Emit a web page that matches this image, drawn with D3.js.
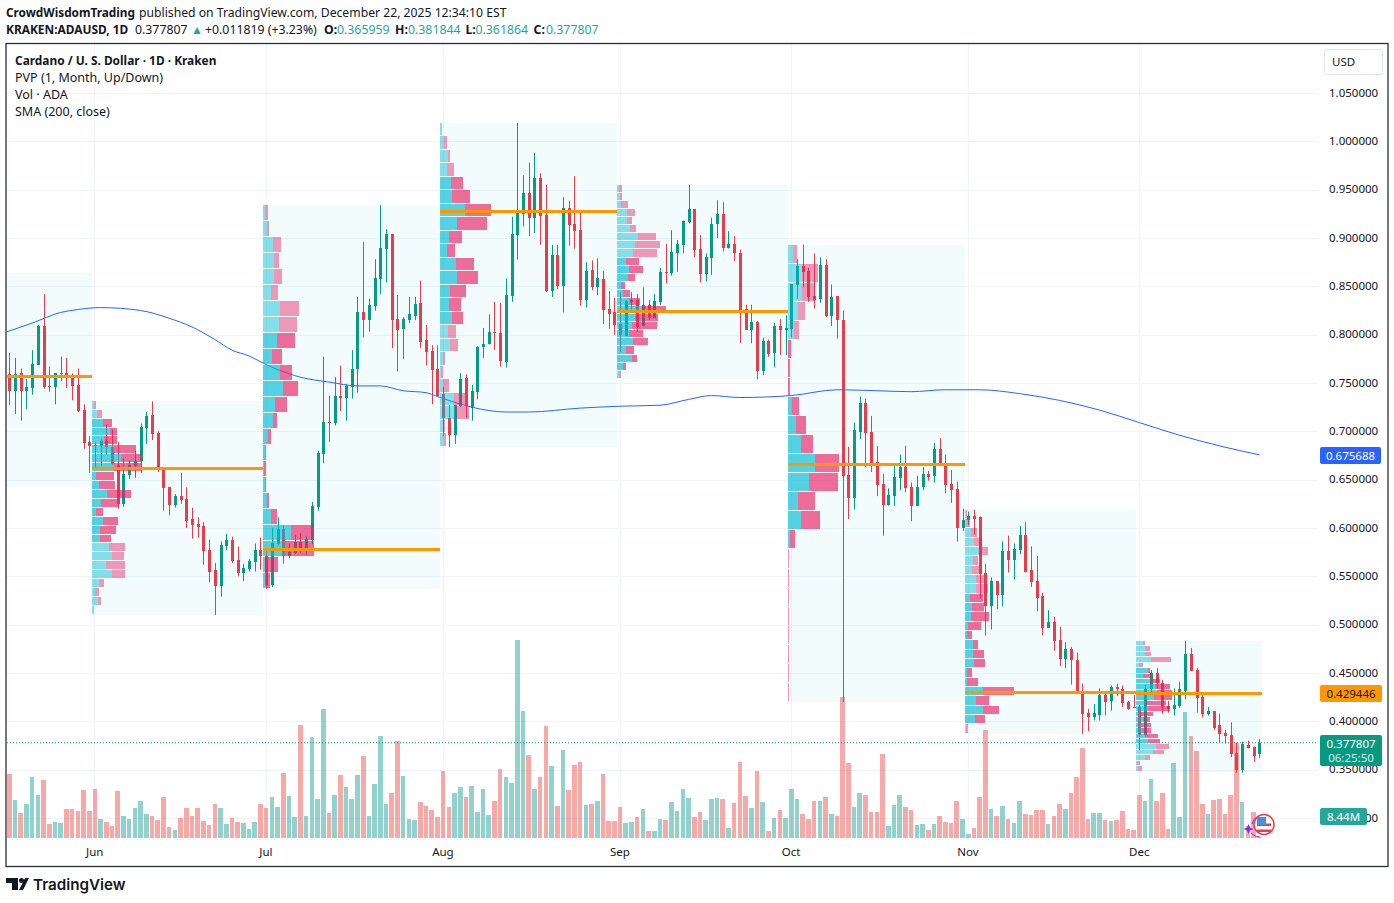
<!DOCTYPE html>
<html>
<head>
<meta charset="utf-8">
<title>KRAKEN:ADAUSD</title>
<script src="https://cdn.jsdelivr.net/npm/d3@7"></script>
<style>
  html, body { margin: 0; background: #fff; }
  svg { display: block; }
  text { font-family: "Noto Sans", sans-serif; fill: #131722; }
  .axis text { font-family: "Noto Sans", sans-serif; font-size: 11.5px; fill: #131722; }
  .axis path, .axis line { display: none; }
</style>
</head>
<body>
<svg id="chart" width="1394" height="903"></svg>
<script>
// Daily candles, 17 May to 22 Dec 2025
const opens = [
  .759,.742,.760,.742,.745,.769,.809,.747,.746,.759,
  .760,.757,.748,.722,.689,.686,.685,.690,.684,.665,
  .625,.655,.664,.669,.703,.717,.698,.660,.642,.624,
  .633,.630,.609,.604,.602,.577,.557,.540,.581,.588,
  .567,.553,.558,.565,.577,.571,.541,.583,.599,.571,
  .574,.586,.579,.588,.622,.677,.710,.709,.737,.735,
  .746,.764,.823,.815,.830,.858,.889,.904,.816,.806,
  .815,.819,.833,.794,.783,.764,.739,.714,.696,.726,
  .755,.724,.741,.787,.790,.803,.802,.772,.840,.903,
  .925,.947,.921,.962,.924,.845,.882,.850,.931,.915,
  .908,.836,.867,.849,.858,.827,.823,.811,.799,.834,
  .836,.809,.831,.817,.834,.865,.864,.885,.893,.917,
  .930,.889,.863,.879,.914,.925,.890,.894,.885,.827,
  .805,.813,.762,.793,.781,.809,.805,.806,.851,.871,
  .866,.840,.837,.872,.819,.840,.815,.655,.631,.699,
  .729,.699,.668,.646,.624,.633,.652,.663,.642,.623,
  .642,.656,.654,.682,.667,.646,.640,.600,.608,.612,
  .611,.553,.519,.545,.531,.576,.567,.577,.593,.557,
  .545,.530,.497,.503,.484,.465,.475,.463,.428,.409,
  .404,.407,.427,.421,.436,.433,.420,.415,.415,.386,
  .433,.450,.440,.416,.413,.416,.431,.470,.453,.425,
  .408,.411,.396,.388,.386,.367,.350,.376,.373,.365959
];
const highs = [
  .781,.776,.765,.754,.784,.810,.842,.767,.760,.777,
  .776,.760,.765,.728,.695,.689,.692,.707,.702,.689,
  .672,.670,.680,.708,.720,.731,.700,.660,.642,.635,
  .657,.642,.621,.611,.606,.588,.564,.586,.594,.591,
  .581,.563,.568,.584,.590,.577,.600,.611,.603,.584,
  .593,.595,.592,.627,.680,.777,.737,.756,.768,.749,
  .784,.839,.896,.837,.878,.934,.909,.904,.841,.818,
  .839,.839,.856,.810,.789,.789,.746,.727,.727,.760,
  .759,.748,.788,.807,.821,.834,.833,.858,.922,1.019,
  .965,.978,.988,.967,.955,.893,.893,.942,.938,.964,
  .926,.875,.877,.879,.866,.845,.838,.844,.836,.844,
  .842,.849,.836,.842,.869,.894,.908,.898,.918,.955,
  .930,.903,.884,.921,.939,.937,.907,.902,.888,.831,
  .831,.814,.797,.795,.812,.816,.820,.852,.878,.893,
  .869,.884,.880,.878,.852,.840,.825,.684,.709,.736,
  .734,.716,.685,.656,.641,.664,.676,.685,.647,.654,
  .663,.659,.688,.693,.676,.660,.648,.620,.617,.619,
  .612,.563,.549,.545,.586,.592,.584,.602,.606,.581,
  .571,.533,.515,.508,.498,.482,.477,.471,.439,.413,
  .418,.434,.429,.437,.439,.437,.421,.427,.417,.438,
  .453,.455,.443,.421,.434,.441,.483,.476,.455,.427,
  .415,.411,.408,.391,.399,.378,.379,.380,.374,.381844
];
const lows = [
  .727,.718,.711,.723,.738,.769,.744,.741,.728,.752,
  .745,.732,.720,.682,.657,.660,.664,.676,.665,.620,
  .622,.651,.652,.657,.687,.691,.658,.618,.613,.621,
  .625,.600,.589,.590,.562,.544,.510,.529,.577,.564,
  .550,.545,.555,.555,.557,.537,.539,.582,.563,.569,
  .573,.574,.572,.583,.618,.667,.689,.706,.721,.711,
  .734,.740,.797,.803,.825,.842,.854,.786,.762,.775,
  .812,.815,.786,.768,.728,.736,.695,.684,.687,.725,
  .714,.711,.733,.776,.790,.784,.767,.766,.834,.878,
  .912,.902,.905,.893,.844,.839,.847,.823,.892,.889,
  .830,.828,.846,.841,.811,.806,.800,.782,.799,.826,
  .803,.809,.815,.817,.831,.853,.861,.865,.884,.915,
  .880,.854,.855,.862,.900,.886,.889,.876,.791,.805,
  .791,.754,.758,.777,.766,.779,.779,.797,.837,.849,
  .834,.827,.833,.818,.809,.796,.420,.609,.619,.692,
  .663,.658,.633,.592,.623,.623,.639,.637,.607,.623,
  .639,.649,.647,.665,.636,.626,.586,.597,.603,.593,
  .527,.489,.495,.516,.519,.554,.547,.573,.554,.539,
  .514,.489,.497,.473,.457,.455,.438,.429,.387,.390,
  .401,.401,.406,.411,.426,.415,.412,.414,.370,.384,
  .429,.434,.408,.409,.406,.414,.423,.452,.409,.404,
  .406,.391,.378,.377,.363,.347,.347,.372,.358,.361864
];
const closes = [
  .742,.759,.742,.746,.770,.809,.746,.746,.760,.760,
  .757,.747,.721,.688,.685,.685,.690,.684,.666,.625,
  .656,.665,.669,.705,.716,.697,.660,.641,.624,.633,
  .629,.607,.603,.601,.576,.555,.540,.582,.588,.566,
  .553,.559,.566,.577,.571,.541,.584,.599,.571,.575,
  .586,.579,.589,.623,.678,.710,.709,.737,.735,.747,
  .765,.823,.815,.831,.859,.890,.904,.815,.805,.816,
  .821,.832,.792,.782,.763,.737,.714,.696,.727,.754,
  .726,.742,.787,.790,.803,.802,.773,.841,.904,.926,
  .947,.921,.962,.923,.845,.882,.850,.931,.913,.907,
  .836,.866,.849,.859,.826,.821,.810,.800,.835,.836,
  .808,.831,.817,.835,.865,.864,.886,.894,.918,.930,
  .888,.863,.880,.914,.925,.890,.894,.884,.826,.805,
  .813,.762,.793,.780,.809,.805,.807,.852,.871,.865,
  .839,.836,.872,.819,.839,.815,.654,.631,.701,.729,
  .698,.666,.645,.624,.634,.653,.663,.641,.623,.642,
  .656,.653,.682,.667,.645,.639,.600,.608,.612,.609,
  .552,.519,.545,.531,.576,.567,.578,.593,.555,.544,
  .528,.497,.503,.483,.465,.475,.463,.431,.408,.404,
  .409,.427,.420,.436,.433,.419,.413,.414,.386,.433,
  .450,.440,.415,.413,.417,.433,.470,.452,.424,.408,
  .411,.393,.387,.385,.366,.350,.377,.372,.364,.377807
];
const volumes = [
  64,38,25,34,61,43,58,14,16,15,
  29,29,27,48,27,49,19,16,12,47,
  22,19,30,37,24,22,18,41,11,8,
  20,30,22,30,17,13,34,30,14,20,
  16,15,9,16,34,30,41,31,65,42,
  21,113,22,101,39,129,25,43,63,51,
  39,63,82,22,54,102,34,45,97,62,
  19,18,36,32,28,21,67,31,45,51,
  41,52,26,49,23,37,69,61,55,198,
  127,83,49,61,112,72,32,88,48,73,
  76,33,34,37,64,17,17,31,15,16,
  21,29,7,7,19,18,36,27,49,40,
  21,26,18,39,40,39,10,35,76,42,
  30,67,36,7,20,28,20,49,39,24,
  19,37,37,41,24,22,141,75,31,45,
  43,26,26,84,12,33,43,31,28,13,
  14,8,14,22,16,15,37,19,4,10,
  41,108,29,22,32,19,15,37,24,23,
  28,28,14,22,34,29,45,61,90,19,
  25,25,18,17,18,27,9,8,43,37,
  59,37,45,9,75,21,126,102,87,34,
  24,38,39,24,43,95,36,12,26,1
];

// SMA 200, read at these bars
const smaBars = [-.4,4,9,12,16,23,28,32,36,39,42,45,47,51,56,61,65,69,73,75,81,87,91,100,107,114,119,123,128,137,145,152,158,164,170,177,184,191,198,205,212,219];
const smaValues = [.803,.812,.823,.826,.828,.825,.817,.808,.795,.784,.778,.769,.764,.756,.751,.747,.747,.742,.740,.736,.725,.720,.720,.724,.726,.727,.733,.737,.735,.737,.743,.742,.741,.743,.743,.739,.732,.722,.709,.696,.685,.675688];

// Axis labels
const priceTicks = [1.05,1,.95,.9,.85,.8,.75,.7,.65,.6,.55,.5,.45,.4,.35,.3];
const monthNames = ['Jun','Jul','Aug','Sep','Oct','Nov','Dec'];
const monthBars = [15,45,76,107,137,168,198];

// Monthly volume profile rows, top row first
const junUp = [2,5,11,18,12,22,29,22,4,7,15,9,4,11,8,8,17,20,14,20,7,3,6,2];
const junDown = [2,5,9,7,13,22,20,27,18,16,24,18,7,15,16,11,16,12,19,13,5,4,3,0];
const julUp = [2,4,10,11,11,8,17,16,14,9,17,20,12,10,5,2,1,2,4,8,28,22,2,3];
const julDown = [3,2,8,5,8,7,19,18,18,10,12,15,12,4,3,1,2,1,2,6,22,29,13,4];
const augUp = [2,4,8,7,11,12,25,17,9,7,16,17,10,9,12,8,10,3,1,3,14,15,3,4];
const augDown = [0,3,2,7,12,18,26,30,13,8,18,21,16,12,11,8,8,2,2,6,11,14,2,2];
const sepUp = [2,3,4,10,10,13,21,18,16,9,12,11,4,6,12,25,18,15,12,16,9,15,6,2];
const sepDown = [3,2,7,8,5,6,18,25,24,13,14,7,4,7,11,24,23,25,14,15,8,5,3,2];
const octUp = [5,14,14,10,6,0,0,0,4,8,13,27,21,10,13,2,0,0,0,0,0,0,0,0];
const octDown = [4,16,13,7,5,3,2,2,7,10,12,24,29,17,19,5,1,1,1,1,1,1,1,1];
const novUp = [1,1,6,9,14,8,7,11,11,5,7,6,3,2,8,8,9,2,2,18,11,18,10,1];
const novDown = [1,4,6,8,9,5,7,8,12,13,12,18,13,5,5,11,11,5,11,31,13,16,10,2];
const decUp = [7,9,9,15,3,12,7,14,19,21,18,10,12,4,7,5,6,10,12,20,17,9,1,2];
const decDown = [2,5,6,20,4,2,8,10,15,15,18,20,22,13,7,10,9,12,12,13,11,5,3,4];

const profiles = [
  { from: -1, to: 15, hi: .864, lo: .6426, poc: .7575, up: [], down: [], va: [0, 0] },
  { from: 15, to: 45, hi: .7316, lo: .5102, poc: .6623, up: junUp, down: junDown, va: [2, 15] },
  { from: 45, to: 76, hi: .9343, lo: .5371, poc: .5785, up: julUp, down: julDown, va: [8, 23] },
  { from: 76, to: 107, hi: 1.0192, lo: .684, poc: .9281, up: augUp, down: augDown, va: [4, 14] },
  { from: 107, to: 137, hi: .955, lo: .7544, poc: .8247, up: sepUp, down: sepDown, va: [9, 22] },
  { from: 137, to: 168, hi: .893, lo: .4202, poc: .6664, up: octUp, down: octDown, va: [5, 15] },
  { from: 168, to: 198, hi: .6188, lo: .3871, poc: .4306, up: novUp, down: novDown, va: [9, 22] },
  { from: 198, to: 220, hi: .4833, lo: .3479, poc: .429446, up: decUp, down: decDown, va: [5, 18] }
];

const RED = '#f23645', GREEN = '#089981', TEAL = '#26a69a';
const up = i => closes[i] >= opens[i];
const fmt = d3.format('.6f');

const svg = d3.select('#chart');
const x = d3.scaleLinear().domain([0, 219]).range([9.33, 1259.3]);
const y = d3.scaleLinear().domain([.3, 1.05]).range([818, 93]);
const volY = d3.scaleLinear().domain([0, 198]).range([838, 640]);
const profW = d3.scaleLinear().domain([0, 51]).range([0, 51]);
const bars = d3.range(opens.length);

svg.append('defs').append('clipPath').attr('id', 'pane')
  .append('rect').attr('x', 7).attr('y', 44).attr('width', 1311).attr('height', 822);

// grid
const grid = svg.append('g').attr('stroke', '#f0f3fa').attr('shape-rendering', 'crispEdges');
grid.selectAll('.h').data(priceTicks).join('line')
  .attr('x1', 7).attr('x2', 1318)
  .attr('y1', d => Math.round(y(d))).attr('y2', d => Math.round(y(d)));
grid.selectAll('.v').data(monthBars).join('line')
  .attr('y1', 44).attr('y2', 840)
  .attr('x1', d => Math.round(x(d) - .5)).attr('x2', d => Math.round(x(d) - .5));

const pane = svg.append('g').attr('clip-path', 'url(#pane)');

// volume
pane.append('g').attr('shape-rendering', 'crispEdges').selectAll('rect').data(bars).join('rect')
  .attr('x', i => Math.round(x(i) - 2.3))
  .attr('width', i => Math.round(x(i) + 2.3) - Math.round(x(i) - 2.3))
  .attr('y', i => volY(volumes[i]))
  .attr('height', i => volY(0) - volY(volumes[i]))
  .attr('fill', i => up(i) ? TEAL : '#ef5350')
  .attr('opacity', 0.5);

// dotted last price
pane.append('line')
  .attr('x1', 7).attr('x2', 1318)
  .attr('y1', y(closes[219])).attr('y2', y(closes[219]))
  .attr('stroke', GREEN).attr('stroke-dasharray', '1 2');

// candles
const candles = pane.append('g');
candles.selectAll('line').data(bars).join('line')
  .attr('x1', i => Math.round(x(i)) + .5).attr('x2', i => Math.round(x(i)) + .5)
  .attr('y1', i => y(highs[i])).attr('y2', i => y(lows[i]))
  .attr('stroke', i => up(i) ? GREEN : RED);
candles.selectAll('rect').data(bars).join('rect')
  .attr('shape-rendering', 'crispEdges')
  .attr('x', i => Math.round(x(i)) - 1)
  .attr('width', 3)
  .attr('y', i => y(Math.max(opens[i], closes[i])))
  .attr('height', i => Math.max(1, Math.abs(y(opens[i]) - y(closes[i]))))
  .attr('fill', i => up(i) ? GREEN : RED);

// SMA
const sma = d3.line().x((d, i) => x(smaBars[i])).y(d => y(d)).curve(d3.curveMonotoneX);
pane.append('path').attr('d', sma(smaValues))
  .attr('fill', 'none').attr('stroke', '#2962ff').attr('stroke-width', 1);

// volume profiles sit on top of the candles
profiles.forEach(p => {
  const x0 = x(p.from) - 3, x1 = x(p.to) - 3;
  const g = pane.append('g').attr('shape-rendering', 'crispEdges');
  g.append('rect')
    .attr('x', x0).attr('width', x1 - x0)
    .attr('y', y(p.hi)).attr('height', y(p.lo) - y(p.hi))
    .attr('fill', '#00bcd4').attr('opacity', 0.05);
  const band = d3.scaleBand().domain(d3.range(p.up.length)).range([y(p.hi), y(p.lo)]);
  const strong = i => i >= p.va[0] && i <= p.va[1];
  g.selectAll('.up').data(p.up).join('rect')
    .attr('x', x0).attr('width', d => profW(d))
    .attr('y', (d, i) => band(i)).attr('height', band.bandwidth() - 1)
    .attr('fill', '#00bcd4').attr('opacity', (d, i) => strong(i) ? .65 : .45);
  g.selectAll('.down').data(p.down).join('rect')
    .attr('x', (d, i) => x0 + profW(p.up[i])).attr('width', d => profW(d))
    .attr('y', (d, i) => band(i)).attr('height', band.bandwidth() - 1)
    .attr('fill', '#e91e63').attr('opacity', (d, i) => strong(i) ? .65 : .45);
  g.append('line')
    .attr('x1', x0).attr('x2', x1)
    .attr('y1', y(p.poc) + .5).attr('y2', y(p.poc) + .5)
    .attr('stroke', '#ff9800').attr('stroke-width', 3);
});

// axes
svg.append('g').attr('class', 'axis').attr('transform', 'translate(1326,-0.5)')
  .call(d3.axisRight(y).tickValues(priceTicks).tickSize(0).tickPadding(3).tickFormat(fmt));
svg.append('g').attr('class', 'axis').attr('transform', 'translate(-0.7,845)')
  .call(d3.axisBottom(x).tickValues(monthBars).tickSize(0).tickPadding(3).tickFormat((d, i) => monthNames[i]));

// price labels on the right
const tag = (top, h, w, fill, label, color) => {
  svg.append('rect').attr('x', 1320).attr('y', top).attr('width', w).attr('height', h)
    .attr('fill', fill).attr('rx', 2);
  if (label) svg.append('text').attr('x', 1320 + w / 2).attr('y', top + h / 2 + 4)
    .attr('text-anchor', 'middle').attr('font-size', 11.5).style('fill', color).text(label);
};
tag(447, 17, 61, '#2962ff', fmt(smaValues[smaValues.length - 1]), '#fff');
tag(685, 17, 62, '#ff9800', fmt(profiles[7].poc), '#131722');
tag(735, 31, 62, GREEN, '');
svg.append('text').attr('x', 1351).attr('y', 748).attr('text-anchor', 'middle').attr('font-size', 11.5).style('fill', '#fff').text(fmt(closes[219]));
svg.append('text').attr('x', 1351).attr('y', 762).attr('text-anchor', 'middle').attr('font-size', 11.5).style('fill', '#cfeee9').text('06:25:50');
tag(808, 17, 47, TEAL, '8.44M', '#fff');

// USD button
svg.append('rect').attr('x', 1324.5).attr('y', 49.5).attr('width', 58).attr('height', 25)
  .attr('fill', '#fff').attr('stroke', '#e0e3eb').attr('rx', 2);
svg.append('text').attr('x', 1332).attr('y', 66).attr('font-size', 11.5).text('USD');

// frame
svg.append('rect').attr('x', 6).attr('y', 43.5).attr('width', 1382).attr('height', 823)
  .attr('fill', 'none').attr('stroke', '#2a2e39').attr('stroke-width', 1.3);

// header
const head1 = svg.append('text').attr('x', 6).attr('y', 17);
head1.append('tspan').attr('font-weight', 700).attr('font-size', 11.8).text('CrowdWisdomTrading');
head1.append('tspan').attr('x', 139).attr('font-size', 12.2).text('published on TradingView.com, December 22, 2025 12:34:10 EST');

const head2 = svg.append('text').attr('y', 34).attr('font-size', 12.3);
head2.append('tspan').attr('x', 6).attr('font-weight', 700).attr('font-size', 11.9).text('KRAKEN:ADAUSD, 1D');
head2.append('tspan').attr('x', 135).text('0.377807');
head2.append('tspan').attr('x', 191).attr('font-size', 12).style('fill', TEAL).text('▲');
head2.append('tspan').attr('x', 205).text('+0.011819 (+3.23%)');
[['O:', opens, 324, 337], ['H:', highs, 395, 408], ['L:', lows, 465.5, 475.5], ['C:', closes, 533.5, 546]].forEach(([k, s, kx, vx]) => {
  head2.append('tspan').attr('x', kx).attr('font-weight', 700).text(k);
  head2.append('tspan').attr('x', vx).style('fill', TEAL).text(fmt(s[219]));
});

// legend
svg.append('text').attr('x', 15).attr('y', 65).attr('font-size', 11.9).attr('font-weight', 700)
  .text('Cardano / U. S. Dollar · 1D · Kraken');
['PVP (1, Month, Up/Down)', 'Vol · ADA', 'SMA (200, close)'].forEach((t, i) => {
  svg.append('text').attr('x', 15).attr('y', 82 + i * 17).attr('font-size', 12.5).text(t);
});

// TradingView logo
const logo = svg.append('g').attr('fill', '#131722');
logo.append('path').attr('d', 'M6 878h12v12h-6v-7h-6z');
logo.append('circle').attr('cx', 21.5).attr('cy', 880.5).attr('r', 2.5);
logo.append('path').attr('d', 'M25 878h4l-6 12h-4z');
svg.append('text').attr('x', 33).attr('y', 890).attr('font-size', 15.2).attr('font-weight', 600)
  .style('font-family', 'Inter, sans-serif').text('TradingView');

// flag badge near the last bar
const badge = svg.append('g');
badge.append('path').attr('d', 'M1248.5 824l1.5 3.5 3.5 1.5-3.5 1.5-1.5 3.5-1.5-3.5-3.5-1.5 3.5-1.5z').attr('fill', '#7b2ff7');
badge.append('path').attr('d', 'M1262 815a12 12 0 0 0 -10 9M1251 833a12 12 0 0 0 9 4')
  .attr('fill', 'none').attr('stroke', '#7b2ff7').attr('stroke-width', 1);
badge.append('circle').attr('cx', 1264).attr('cy', 824.5).attr('r', 10)
  .attr('fill', '#fff').attr('stroke', '#ef3b50').attr('stroke-width', 1.5);
[823.5, 829.5].forEach(v => badge.append('rect').attr('x', 1257).attr('y', v).attr('width', 14).attr('height', 2.5).attr('fill', '#ef3b50'));
badge.append('rect').attr('x', 1257).attr('y', 817).attr('width', 9).attr('height', 8).attr('fill', '#4a90d9');
</script>
</body>
</html>
